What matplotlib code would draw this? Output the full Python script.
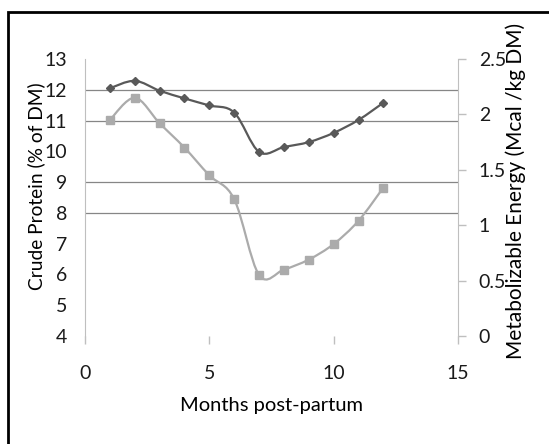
import matplotlib
matplotlib.use("Agg")
import matplotlib.pyplot as plt
from matplotlib.path import Path
from matplotlib.patches import PathPatch
from matplotlib.lines import Line2D
import numpy as np

plt.rcParams['font.family'] = ['Lato', 'DejaVu Sans']

# monthly values after calving
months = [1, 2, 3, 4, 5, 6, 7, 8, 9, 10, 11, 12]
crude_protein = [12.05, 12.29, 11.97, 11.72, 11.49, 11.26, 9.98, 10.14, 10.3, 10.6, 11.02, 11.58]
metab_energy = [1.95, 2.15, 1.92, 1.70, 1.45, 1.235, 0.55, 0.60, 0.69, 0.83, 1.04, 1.34]

cp_ticks = [4, 5, 6, 7, 8, 9, 10, 11, 12, 13]
cp_gridlines = [8, 9, 11, 12]
me_ticks = [0, 0.5, 1, 1.5, 2, 2.5]
month_ticks = [0, 5, 10, 15]

dark = '#595959'
light = '#ababab'
axis_grey = '#bfbfbf'
text_col = '#1a1a1a'


def smooth_path(xs, ys):
    # cubic bezier through every point, Catmull-Rom style tangents
    pts = np.column_stack([xs, ys]).astype(float)
    n = len(pts)
    verts = [pts[0]]
    codes = [Path.MOVETO]
    for i in range(n - 1):
        p0 = pts[i - 1] if i > 0 else pts[i]
        p1 = pts[i]
        p2 = pts[i + 1]
        p3 = pts[i + 2] if i + 2 < n else pts[i + 1]
        c1 = p1 + (p2 - p0) / 6.0
        c2 = p2 - (p3 - p1) / 6.0
        verts += [c1, c2, p2]
        codes += [Path.CURVE4] * 3
    return Path(verts, codes)


fig = plt.figure(figsize=(5.49, 4.44), dpi=100)
ax = fig.add_axes([85 / 549, 1 - 336 / 444, 373 / 549, 277 / 444])
ax2 = ax.twinx()

# crude protein on the left scale
ax.add_patch(PathPatch(smooth_path(months, crude_protein), fill=False, edgecolor=dark, lw=1.6, zorder=3))
ax.plot(months, crude_protein, ls='none', marker='D', ms=4.5, color=dark, zorder=4)

# metabolizable energy on the right scale
ax2.add_patch(PathPatch(smooth_path(months, metab_energy), fill=False, edgecolor=light, lw=1.6, zorder=3))
ax2.plot(months, metab_energy, ls='none', marker='s', ms=6, color=light, zorder=4)

for g in cp_gridlines:
    ax.axhline(g, color='#868686', lw=0.9, zorder=1)

ax.set_xlim(0, 15)
ax.set_ylim(4, 13)
ax2.set_ylim(0, 2.5)
ax.set_xticks(month_ticks)
ax.set_yticks(cp_ticks)
ax2.set_yticks(me_ticks)
ax2.set_yticklabels([f'{t:g}' for t in me_ticks])

for a in (ax, ax2):
    for s in a.spines.values():
        s.set_visible(False)
ax.spines['left'].set_visible(True)
ax.spines['left'].set_color(axis_grey)
ax2.spines['right'].set_visible(True)
ax2.spines['right'].set_color(axis_grey)

ax.tick_params(axis='y', length=0, pad=13, labelsize=14, colors=text_col)
ax.tick_params(axis='x', length=6, width=1, color=axis_grey, pad=15, labelsize=14, labelcolor=text_col)
ax2.tick_params(axis='y', length=6, width=1, color=axis_grey, pad=9, labelsize=14, labelcolor=text_col)

ax.set_xlabel('Months post-partum', fontsize=14.5, labelpad=11)
ax.set_ylabel('Crude Protein (% of DM)', fontsize=13.8)
ax2.set_ylabel('Metabolizable Energy (Mcal /kg DM)', fontsize=15)
ax.yaxis.set_label_coords(-40 / 373, 0.54)
ax2.yaxis.set_label_coords(1 + 47 / 373, 0.522)

# chart frame, only the top and left edges fall inside the image
x0, y0 = 8 / 549, 1 - 12 / 444
fig.lines.append(Line2D([x0, x0, 1.0], [0.0, y0, y0], transform=fig.transFigure,
                        color='black', lw=2, solid_joinstyle='miter'))

fig.savefig('out.png', dpi=100)
